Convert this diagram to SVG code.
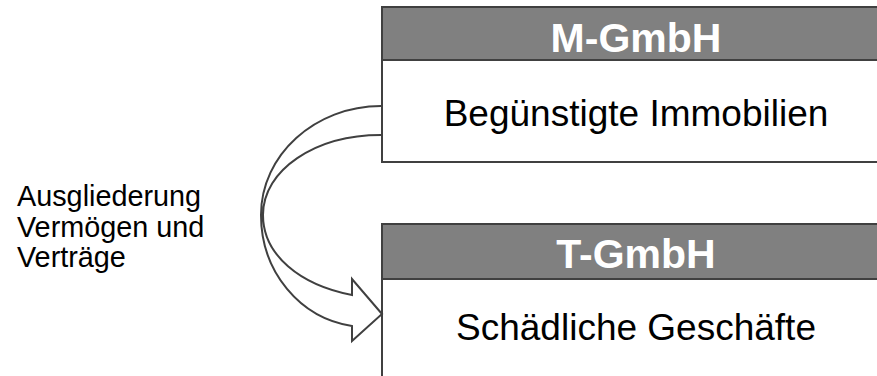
<svg xmlns="http://www.w3.org/2000/svg" width="877" height="376" viewBox="0 0 877 376">
<style>
.hdr{fill:#808080;stroke:#404040;stroke-width:2}
.body{fill:#ffffff;stroke:#404040;stroke-width:2}
.ttl{font-family:"Liberation Sans",Arial,sans-serif;font-weight:bold;font-size:41px;fill:#ffffff;text-anchor:middle}
.sub{font-family:"Liberation Sans",Arial,sans-serif;font-size:37px;fill:#000000;text-anchor:middle}
.lbl{font-family:"Liberation Sans",Arial,sans-serif;font-size:28.8px;fill:#000000}
.arr{fill:#ffffff;stroke:#404040;stroke-width:2;stroke-linejoin:miter}
</style>
<rect width="877" height="376" fill="#ffffff"/>
<g id="m-gmbh">
<rect class="body" x="382" y="60" width="520" height="102"/>
<rect class="hdr" x="382" y="7" width="520" height="53"/>
<text class="ttl" x="636" y="52">M-GmbH</text>
<text class="sub" x="636" y="126">Begünstigte Immobilien</text>
</g>
<g id="t-gmbh">
<rect class="body" x="382" y="279" width="520" height="110"/>
<rect class="hdr" x="382" y="224" width="520" height="55"/>
<text class="ttl" x="636" y="268">T-GmbH</text>
<text class="sub" x="636" y="340">Schädliche Geschäfte</text>
</g>
<g id="connectors">
<path class="arr" d="M381,106 C315,106 261,155 261,215 C261,272 300,318 352,326 L352,341 L382,314 L352,279 L352,295 C300,285 263,255 263,215 C263,170 315,135 381,135"/>
</g>
<g id="label">
<text class="lbl" x="17" y="206">Ausgliederung</text>
<text class="lbl" x="17" y="237">Vermögen und</text>
<text class="lbl" x="17" y="267">Verträge</text>
</g>
</svg>
